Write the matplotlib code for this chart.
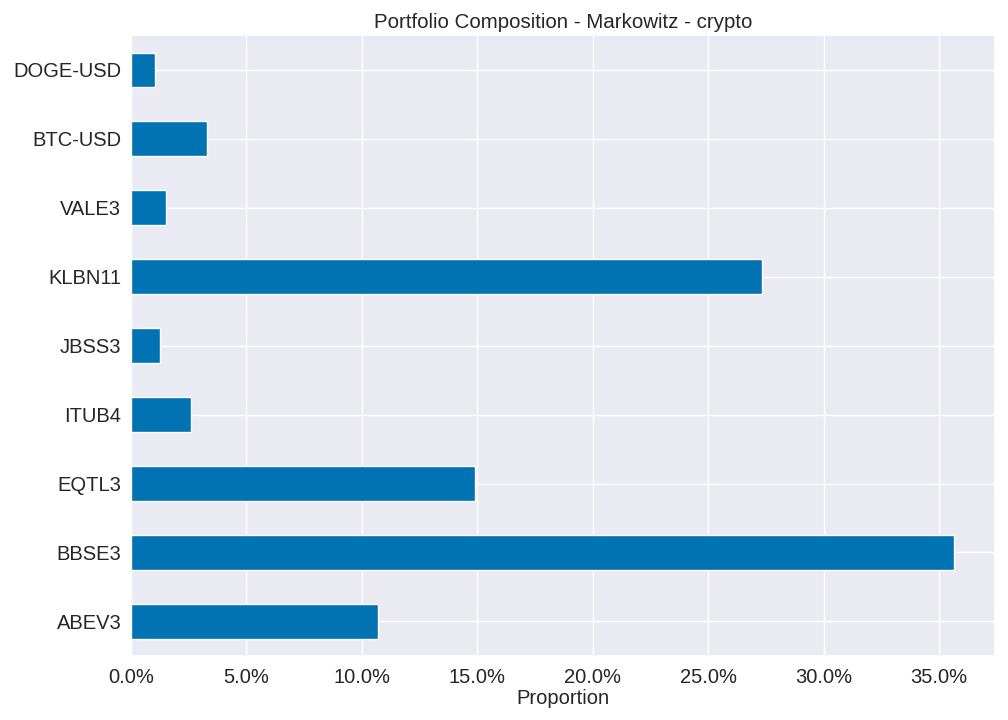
import matplotlib
matplotlib.use('Agg')
import matplotlib.pyplot as plt
import matplotlib.ticker as mtick
import seaborn as sns
import pandas as pd

# pesos do portfolio (Markowitz)
tickers = ['ABEV3', 'BBSE3', 'EQTL3', 'ITUB4', 'JBSS3', 'KLBN11', 'VALE3', 'BTC-USD', 'DOGE-USD']
weights = [0.1069, 0.3563, 0.1491, 0.0261, 0.0127, 0.2733, 0.0153, 0.0330, 0.0105]

sns.set_theme(style='darkgrid', palette='colorblind')
plt.rcParams['font.family'] = ['Liberation Sans', 'DejaVu Sans']

df = pd.Series(weights, index=tickers)

fig, ax = plt.subplots(figsize=(10.08, 7.2), dpi=100)
df.plot(kind='barh', ax=ax, color=sns.color_palette('colorblind')[0], edgecolor='white')
ax.xaxis.set_major_formatter(mtick.PercentFormatter(1.0, decimals=1))
ax.set_title('Portfolio Composition - Markowitz - crypto', fontsize=14.8, pad=5)
ax.set_xlabel('Proportion', fontsize=14.5, labelpad=1)
ax.tick_params(axis='x', labelsize=14.5, pad=3)
ax.tick_params(axis='y', labelsize=14.5, pad=1)
fig.subplots_adjust(left=0.13, right=0.987, top=0.951, bottom=0.089)
plt.savefig('out.png')
